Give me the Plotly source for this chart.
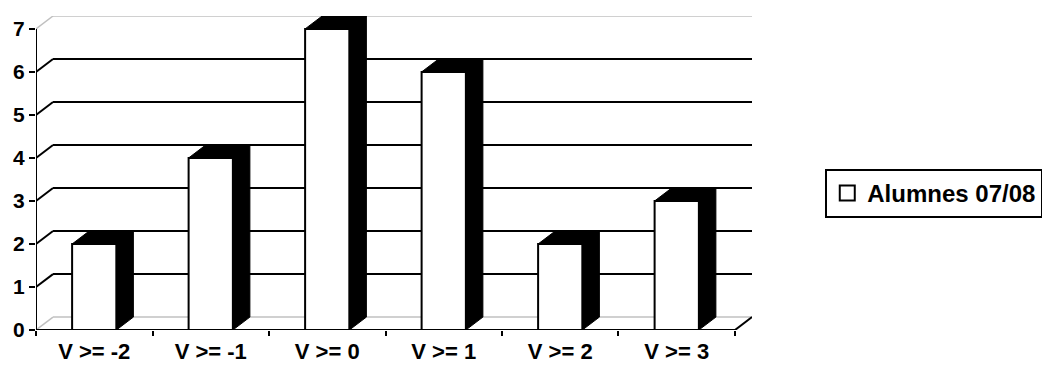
import plotly.graph_objects as go

# ---- data ----
categories = ["V >= -2", "V >= -1", "V >= 0", "V >= 1", "V >= 2", "V >= 3"]
values = [2, 4, 7, 6, 2, 3]
series_name = "Alumnes 07/08"
y_ticks = [0, 1, 2, 3, 4, 5, 6, 7]

# ---- style constants ----
DX = 0.146    # depth offset in x units
DY = 0.30     # depth offset in y units
BW = 0.38     # bar width
YMAX = 7
FONT = "Liberation Sans, Arial, sans-serif"

xs = list(range(len(categories)))
n = len(categories)
xl, xr = -0.5, n - 0.5

fig = go.Figure()

# front faces of the bars
fig.add_trace(go.Bar(
    x=xs, y=values, width=BW,
    marker=dict(color="white", line=dict(color="black", width=2)),
    showlegend=False, hoverinfo="skip",
))

# depth (top + side) faces computed from the values
px, py = [], []
for i, v in zip(xs, values):
    x0, x1 = i - BW / 2, i + BW / 2
    px += [x0, x0 + DX, x1 + DX, x1 + DX, x1, x1, x0, None]
    py += [v, v + DY, v + DY, DY, 0, v, v, None]
fig.add_trace(go.Scatter(
    x=px, y=py, mode="lines", fill="toself", fillcolor="black",
    line=dict(color="black", width=1), showlegend=False, hoverinfo="skip",
))

# legend entry
fig.add_trace(go.Scatter(
    x=[None], y=[None], mode="markers", name=series_name,
    marker=dict(symbol="square", size=15, color="white",
                line=dict(color="black", width=2)),
))

shapes = []
# back wall gridlines and left-wall diagonals
for k in y_ticks:
    edge = k in (0, YMAX)
    col = "#c0c0c0" if edge else "black"
    w = 1.5 if edge else 2
    shapes.append(dict(type="line", xref="x", yref="y", layer="below",
                       x0=xl + DX, x1=xr + DX, y0=k + DY, y1=k + DY,
                       line=dict(color=col, width=w)))
    shapes.append(dict(type="line", xref="x", yref="y", layer="below",
                       x0=xl, x1=xl + DX, y0=k, y1=k + DY,
                       line=dict(color=col, width=w)))
# front axes
shapes.append(dict(type="line", xref="x", yref="y", layer="above",
                   x0=xl, x1=xl, y0=0, y1=YMAX, line=dict(color="black", width=2)))
shapes.append(dict(type="line", xref="x", yref="y", layer="above",
                   x0=xl, x1=xr, y0=0, y1=0, line=dict(color="black", width=2)))
shapes.append(dict(type="line", xref="x", yref="y", layer="above",
                   x0=xr, x1=xr + DX, y0=0, y1=DY, line=dict(color="black", width=2)))

fig.update_layout(
    width=1042, height=365,
    margin=dict(l=36, r=290, t=16, b=35, autoexpand=False),
    paper_bgcolor="white", plot_bgcolor="white",
    shapes=shapes,
    showlegend=True,
    legend=dict(
        xref="container", yref="container",
        x=0.792, y=0.470, xanchor="left", yanchor="middle",
        bordercolor="black", borderwidth=2, bgcolor="white",
        font=dict(family=FONT, size=24, color="black", weight="bold"),
        itemsizing="trace",
    ),
    xaxis=dict(
        range=[xl, xr + DX], showgrid=False, zeroline=False, showline=False,
        tickmode="array", tickvals=xs, ticktext=categories, ticks="",
        ticklabelstandoff=6,
        tickfont=dict(family=FONT, size=22, color="black", weight="bold"),
        minor=dict(tickmode="array", tickvals=[i - 0.5 for i in range(n + 1)],
                   ticks="outside", ticklen=5, tickwidth=2, tickcolor="black",
                   showgrid=False),
        fixedrange=True,
    ),
    yaxis=dict(
        range=[0, YMAX + DY], showgrid=False, zeroline=False, showline=False,
        tickmode="array", tickvals=y_ticks, ticks="outside", ticklen=6,
        tickwidth=2, tickcolor="black",
        tickfont=dict(family=FONT, size=21, color="black", weight="bold"),
        fixedrange=True,
    ),
)

fig.write_html("out.html")
